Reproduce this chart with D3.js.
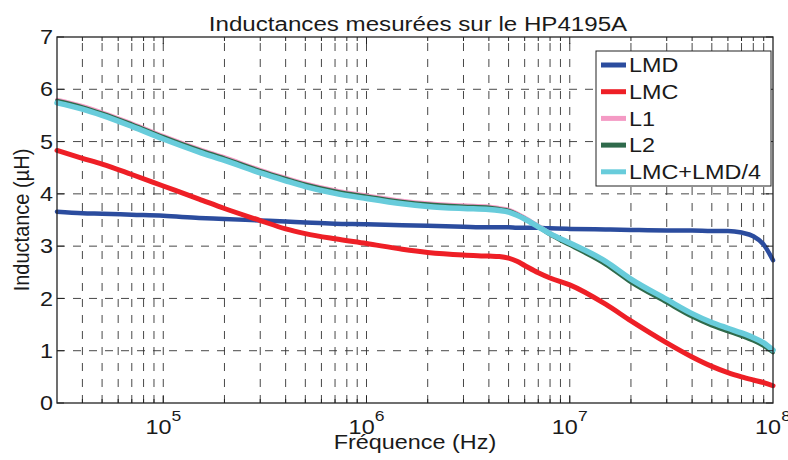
<!DOCTYPE html>
<html>
<head>
<meta charset="utf-8">
<script src="https://cdn.jsdelivr.net/npm/d3@7"></script>
<style>
html,body{margin:0;padding:0;background:#fff;}
svg{display:block;}
text{font-family:"Liberation Sans",Arial,Helvetica,sans-serif;fill:#1a1a1a;}
</style>
</head>
<body>
<svg id="chart" width="788" height="460"></svg>
<script>
// ---------- DATA ----------
const freqs = [3e4,4e4,5e4,7e4,1e5,1.5e5,2e5,3e5,4e5,5e5,7e5,1e6,1.5e6,2e6,3e6,4e6,4.5e6,5e6,5.5e6,6e6,7e6,8e6,1e7,1.5e7,2e7,3e7,4e7,5e7,6e7,7e7,8e7,9e7,1e8];
const LMD  = [3.66,3.63,3.62,3.60,3.58,3.54,3.52,3.49,3.47,3.45,3.43,3.42,3.40,3.39,3.37,3.36,3.36,3.36,3.35,3.35,3.35,3.34,3.33,3.32,3.31,3.30,3.30,3.29,3.29,3.26,3.19,3.03,2.73];
const LMC  = [4.83,4.68,4.57,4.37,4.15,3.90,3.72,3.49,3.33,3.24,3.14,3.05,2.94,2.88,2.83,2.81,2.80,2.77,2.71,2.63,2.49,2.39,2.26,1.89,1.57,1.15,0.88,0.70,0.58,0.50,0.44,0.39,0.33];
const L1   = [5.80,5.68,5.56,5.35,5.11,4.86,4.70,4.46,4.31,4.20,4.07,3.97,3.87,3.82,3.78,3.76,3.73,3.70,3.63,3.55,3.39,3.25,3.05,2.69,2.35,1.96,1.69,1.52,1.41,1.32,1.23,1.13,0.99];
const L2   = [5.78,5.66,5.54,5.33,5.09,4.84,4.68,4.44,4.29,4.18,4.05,3.95,3.85,3.80,3.76,3.74,3.71,3.68,3.61,3.53,3.37,3.22,3.02,2.65,2.31,1.92,1.65,1.48,1.37,1.28,1.19,1.09,0.97];
const LSUM = [5.74,5.62,5.50,5.29,5.05,4.80,4.64,4.40,4.25,4.14,4.01,3.91,3.81,3.76,3.72,3.70,3.68,3.65,3.59,3.52,3.37,3.24,3.06,2.71,2.37,1.98,1.71,1.54,1.43,1.34,1.25,1.15,1.01];
const seriesNames = ["LMD","LMC","L1","L2","LMC+LMD/4"];
const seriesValues = [LMD, LMC, L1, L2, LSUM];
const seriesColors = ["#2b4c9e","#ee1f26","#f49ac4","#2f6a4b","#68ccdb"];
const seriesWidths = [4.5,5,4,4,5.5];
const xMajorTicks = [1e5,1e6,1e7,1e8];
const yTicks = [0,1,2,3,4,5,6,7];
const titleText = "Inductances mesurées sur le HP4195A";
const xLabel = "Fréquence (Hz)";
const yLabel = "Inductance (µH)";

// ---------- LAYOUT ----------
const L = 57, R = 773, T = 37, B = 403;
const SX = 1.17;
const svg = d3.select("#chart");
const x = d3.scaleLog().domain([3e4,1e8]).range([L,R]);
const y = d3.scaleLinear().domain([0,7]).range([B,T]);

// minor ticks
const minor = [];
for (let e = 4; e <= 7; e++) for (let m = 1; m <= 9; m++) {
  const v = m * Math.pow(10,e);
  if (v > 3e4 && v < 1e8) minor.push(v);
}

// grid
const grid = svg.append("g").attr("stroke","#333").attr("stroke-width",0.9).attr("stroke-dasharray","8,8").attr("fill","none");
grid.selectAll("line.v").data(minor).join("line")
  .attr("x1",d=>x(d)).attr("x2",d=>x(d)).attr("y1",B).attr("y2",T);
grid.selectAll("line.h").data(yTicks.filter(d=>d>0&&d<7)).join("line").attr("class","h")
  .attr("x1",L).attr("x2",R).attr("y1",d=>y(d)).attr("y2",d=>y(d));

// curves
const line = d3.line().x((d,i)=>x(freqs[i])).y(d=>y(d)).curve(d3.curveMonotoneX);
const curves = svg.append("g").attr("fill","none").attr("stroke-linejoin","round").attr("stroke-linecap","round");
seriesValues.forEach((vals,k)=>{
  curves.append("path").datum(vals).attr("d",line)
    .attr("stroke",seriesColors[k]).attr("stroke-width",seriesWidths[k]);
});

// axes box + ticks
const ax = svg.append("g").attr("stroke","#222").attr("fill","none");
ax.append("rect").attr("x",L).attr("y",T).attr("width",R-L).attr("height",B-T).attr("stroke-width",1.3);
const tickLen = v => xMajorTicks.includes(v) ? 7 : 4;
minor.forEach(v=>{
  ax.append("line").attr("x1",x(v)).attr("x2",x(v)).attr("y1",B).attr("y2",B-tickLen(v)).attr("stroke-width",1);
  ax.append("line").attr("x1",x(v)).attr("x2",x(v)).attr("y1",T).attr("y2",T+tickLen(v)).attr("stroke-width",1);
});
yTicks.forEach(v=>{
  ax.append("line").attr("x1",L).attr("x2",L+7).attr("y1",y(v)).attr("y2",y(v)).attr("stroke-width",1);
  ax.append("line").attr("x1",R).attr("x2",R-7).attr("y1",y(v)).attr("y2",y(v)).attr("stroke-width",1);
});

// x tick labels with superscripts
xMajorTicks.forEach(v=>{
  const g = svg.append("g").attr("transform",`translate(${x(v)},434) scale(${SX},1)`);
  const t = g.append("text").attr("text-anchor","middle").attr("font-size",20);
  t.append("tspan").text("10");
  t.append("tspan").attr("dy",-13).attr("font-size",15).text(String(Math.round(Math.log10(v))));
});

// y tick labels
yTicks.forEach(v=>{
  svg.append("g").attr("transform",`translate(53,${y(v)}) scale(${SX},1)`)
    .append("text").attr("text-anchor","end").attr("dy","0.36em").attr("font-size",20).text(v);
});

// title
svg.append("g").attr("transform",`translate(418,31) scale(1.15,1)`)
  .append("text").attr("text-anchor","middle").attr("font-size",21).text(titleText);
// x label
svg.append("g").attr("transform",`translate(415,449) scale(${SX},1)`)
  .append("text").attr("text-anchor","middle").attr("font-size",20).text(xLabel);
// y label
svg.append("g").attr("transform",`translate(29,220) rotate(-90) scale(1,1.12)`)
  .append("text").attr("text-anchor","middle").attr("font-size",20).text(yLabel);

// legend
const lg = svg.append("g");
lg.append("rect").attr("x",596).attr("y",51).attr("width",175).attr("height",135)
  .attr("fill","#fff").attr("stroke","#222").attr("stroke-width",1);
seriesNames.forEach((name,k)=>{
  const cy = 65 + k*26.7;
  lg.append("line").attr("x1",601).attr("x2",626).attr("y1",cy).attr("y2",cy)
    .attr("stroke",seriesColors[k]).attr("stroke-width",5);
  lg.append("g").attr("transform",`translate(629,${cy}) scale(${SX},1)`)
    .append("text").attr("dy","0.36em").attr("font-size",20).text(name);
});
</script>
</body>
</html>
